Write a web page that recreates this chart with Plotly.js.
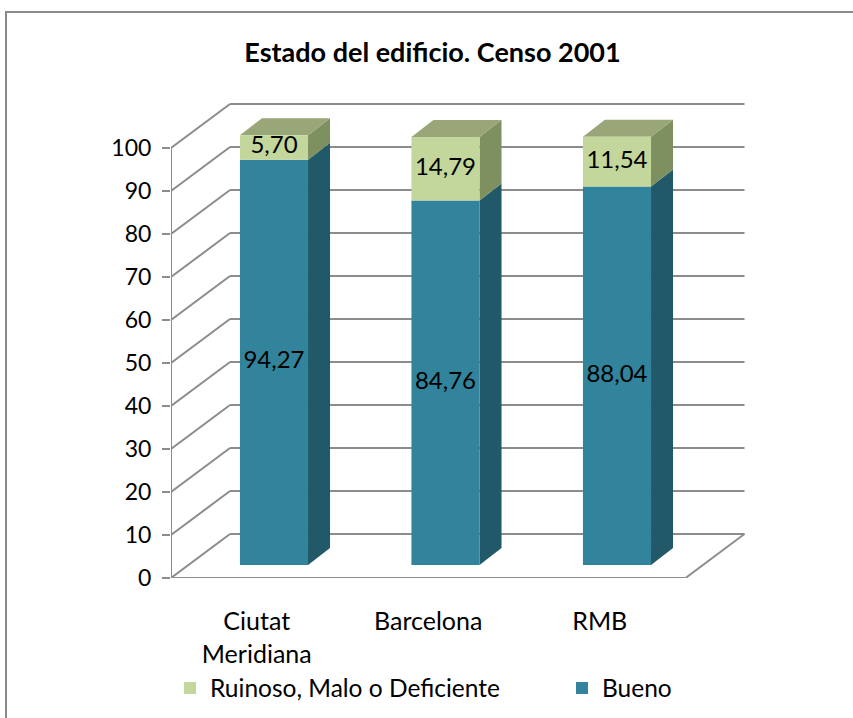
<!DOCTYPE html>
<html>
<head>
<meta charset="utf-8">
<script src="https://cdn.plot.ly/plotly-3.0.1.min.js"></script>
<style>
  html, body { margin: 0; padding: 0; background: #fff; }
  #wrap { position: relative; width: 853px; height: 718px; overflow: hidden; }
  #chart { width: 853px; height: 718px; }
  #frame { position: absolute; left: 5px; top: 11px; width: 900px; height: 800px;
           border-left: 2px solid #8a8a8a; border-top: 2px solid #8a8a8a; pointer-events: none; }
</style>
</head>
<body>
<div id="wrap"><div id="chart"></div><div id="frame"></div></div>
<script>
// ---- data ----
const categories = ['Ciutat<br>Meridiana', 'Barcelona', 'RMB'];
const bueno = [94.27, 84.76, 88.04];
const ruinoso = [5.70, 14.79, 11.54];
const yTickVals = [0, 10, 20, 30, 40, 50, 60, 70, 80, 90, 100];
const seriesNames = ['Bueno', 'Ruinoso, Malo o Deficiente'];

// ---- geometry (pixel scales of the oblique 3D look) ----
const PXX = 171.5, PXY = 4.3;
const DX = 59 / PXX, DY = 44 / PXY;          // wall depth
const BAR_OFF = -0.098, BAR_W = 0.397;       // front face position in category
const BASE = 13 / PXY;                       // front face lifted by depth
const BDX = 22 / PXX, BDY = 17 / PXY;        // bar depth
const ML = 171, MR = 108, MT = 100, MB = 140, W = 853, H = 718;
const xRange = [-0.5, -0.5 + (W - ML - MR) / PXX];
const yRange = [0, (H - MT - MB) / PXY];

const cBueno = '#31849B', cBuenoSide = '#215968';
const cRuin = '#C3D69B', cRuinSide = '#7E8F60', cRuinTop = '#98A678';
const gridC = '#8c8c8c';
const FONT = 'Lato, "Open Sans", sans-serif';

const xIdx = categories.map((_, i) => i);
const fmt = v => v.toFixed(2).replace('.', ',');

const shapes = [];
const line = (x0, y0, x1, y1) => shapes.push({type: 'line', xref: 'x', yref: 'y', x0, y0, x1, y1,
  layer: 'below', line: {color: gridC, width: 2}});
// back wall gridlines + left side wall slants
yTickVals.forEach(v => {
  line(-0.5 + DX, v + DY, categories.length - 0.5 + DX, v + DY);
  line(-0.5, v, -0.5 + DX, v + DY);
});
// floor right edge and front edge, left axis
line(categories.length - 0.5, 0, categories.length - 0.5 + DX, DY);
line(-0.5, 0, categories.length - 0.5, 0);
line(-0.5, 0, -0.5, yTickVals[yTickVals.length - 1]);
// x category boundary ticks
for (let i = 0; i <= categories.length; i++) {
  shapes.push({type: 'line', xref: 'x', yref: 'y', ysizemode: 'pixel', yanchor: 0,
    x0: i - 0.5, x1: i - 0.5, y0: 0, y1: -9, layer: 'below', line: {color: gridC, width: 2}});
}
const poly = (pts, color) => shapes.push({type: 'path', xref: 'x', yref: 'y', layer: 'below',
  path: 'M' + pts.map(p => p[0] + ',' + p[1]).join('L') + 'Z', fillcolor: color, line: {width: 0}});
xIdx.forEach(i => {
  const x0 = i + BAR_OFF, x1 = x0 + BAR_W;
  const b0 = BASE, b1 = BASE + bueno[i], b2 = b1 + ruinoso[i];
  poly([[x1, b0], [x1 + BDX, b0 + BDY], [x1 + BDX, b1 + BDY], [x1, b1]], cBuenoSide);
  poly([[x1, b1], [x1 + BDX, b1 + BDY], [x1 + BDX, b2 + BDY], [x1, b2]], cRuinSide);
  poly([[x0, b2], [x1, b2], [x1 + BDX, b2 + BDY], [x0 + BDX, b2 + BDY]], cRuinTop);
});

const traces = [
  {type: 'bar', name: seriesNames[0], x: xIdx, y: bueno, base: bueno.map(() => BASE), legend: 'legend2',
   offset: BAR_OFF, width: BAR_W, marker: {color: cBueno, line: {width: 0}}, hoverinfo: 'skip'},
  {type: 'bar', name: seriesNames[1], x: xIdx, y: ruinoso, base: bueno.map(v => BASE + v), legend: 'legend',
   offset: BAR_OFF, width: BAR_W, marker: {color: cRuin, line: {width: 0}}, hoverinfo: 'skip'},
  {type: 'scatter', mode: 'text', showlegend: false, hoverinfo: 'skip',
   x: xIdx.concat(xIdx).map(i => i + BAR_OFF + BAR_W / 2),
   y: bueno.map(v => BASE + v / 2).concat(ruinoso.map((r, i) => BASE + bueno[i] + r / 2)),
   text: bueno.map(fmt).concat(ruinoso.map(fmt)),
   textposition: 'middle center', textfont: {family: FONT, size: 24, color: '#000'}}
];

const legendBase = {orientation: 'h', xref: 'container', yref: 'container', y: 1 - 688 / H,
  xanchor: 'left', yanchor: 'middle', itemwidth: 30,
  font: {family: FONT, size: 24.5, color: '#000'}, bgcolor: 'rgba(0,0,0,0)'};

const layout = {
  width: W, height: H, margin: {l: ML, r: MR, t: MT, b: MB},
  paper_bgcolor: '#fff', plot_bgcolor: 'rgba(0,0,0,0)',
  barmode: 'overlay', showlegend: true,
  font: {family: FONT, size: 23, color: '#000'},
  title: {text: '<b>Estado del edificio. Censo 2001</b>', x: 0.507, xanchor: 'center',
          y: 1 - 53 / H, yanchor: 'middle', font: {family: FONT, size: 27, color: '#000'}},
  xaxis: {range: xRange, tickvals: xIdx, ticktext: categories, showgrid: false, zeroline: false,
          showline: false, ticks: '', ticklabelstandoff: 26, fixedrange: true,
          tickfont: {family: FONT, size: 25, color: '#000'}},
  yaxis: {range: yRange, tickvals: yTickVals, showgrid: false, zeroline: false, showline: false,
          ticks: 'outside', ticklen: 8, tickwidth: 2, tickcolor: gridC, fixedrange: true,
          ticklabelstandoff: 6, tickfont: {family: FONT, size: 23, color: '#000'}},
  legend: Object.assign({}, legendBase, {x: 170 / W}),
  legend2: Object.assign({}, legendBase, {x: 562 / W}),
  shapes: shapes
};
Plotly.newPlot('chart', traces, layout, {displayModeBar: false, staticPlot: true});
</script>
</body>
</html>
